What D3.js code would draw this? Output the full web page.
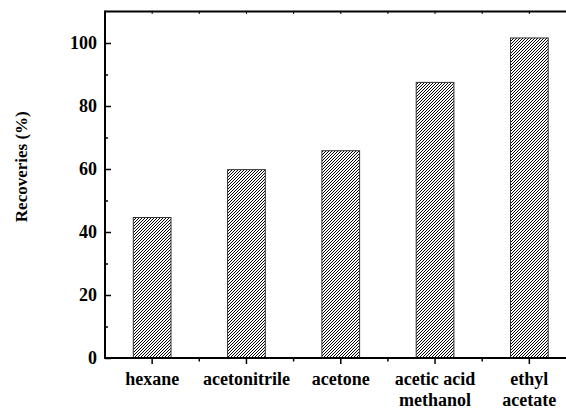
<!DOCTYPE html>
<html><head><meta charset="utf-8">
<script src="https://cdn.jsdelivr.net/npm/d3@7"></script>
<style>body{margin:0;background:#fff}svg{display:block}</style>
</head><body>
<script>
const categories = [["hexane"],["acetonitrile"],["acetone"],["acetic acid","methanol"],["ethyl","acetate"]];
const recoveries = [44.6, 59.8, 65.8, 87.5, 101.6];
const yTicks = [0,20,40,60,80,100];
const yMinor = [10,30,50,70,90];

(function(){
const W=566,H=409;
const FONT="Liberation Serif";
const svg=d3.select("body").append("svg").attr("width",W).attr("height",H);
const defs=svg.append("defs");
const pat=defs.append("pattern").attr("id","hatch").attr("patternUnits","userSpaceOnUse")
  .attr("width",3).attr("height",3);
pat.append("rect").attr("width",3).attr("height",3).attr("fill","#fff");
pat.append("path").attr("d","M-1,1 L1,-1 M0,3 L3,0 M2,4 L4,2").attr("stroke","#000").attr("stroke-width",1);

const pLeft=105, pTop=11.5, pBottom=358, pRight=576.5;
const keys=categories.map((c,i)=>i);
const x=d3.scaleBand().domain(keys).range([pLeft,pRight]).paddingInner(0.6).paddingOuter(0.3);
const y=d3.scaleLinear().domain([0,110]).range([pBottom,pTop]);

// bars
svg.append("g").selectAll("rect").data(recoveries).join("rect")
  .attr("x",(d,i)=>x(i)).attr("width",x.bandwidth())
  .attr("y",d=>y(d)).attr("height",d=>y(0)-y(d))
  .attr("fill","url(#hatch)").attr("stroke","#333").attr("stroke-width",1);

// y axis (ticks inward)
const ya=svg.append("g").attr("transform",`translate(${pLeft},0)`)
  .call(d3.axisLeft(y).tickValues(yTicks).tickSize(-6).tickPadding(8).tickFormat(d3.format("d")));
ya.attr("font-family",FONT).attr("font-size",18).attr("font-weight","bold");
ya.select(".domain").remove();
ya.selectAll("line").attr("stroke","#000").attr("stroke-width",1.5);
ya.selectAll("text").attr("fill","#000");
svg.append("g").attr("transform",`translate(${pLeft},0)`)
  .call(d3.axisLeft(y).tickValues(yMinor).tickSize(-3).tickFormat(""))
  .call(g=>g.select(".domain").remove())
  .selectAll("line").attr("stroke","#000").attr("stroke-width",1.5);

// x axis ticks (outward)
const xa=svg.append("g").attr("transform",`translate(0,${pBottom})`)
  .call(d3.axisBottom(x).tickSize(6).tickFormat(""));
xa.select(".domain").remove();
xa.selectAll("line").attr("stroke","#000").attr("stroke-width",1.5);
const minorX=keys.slice(1).map(i=>x(i)-(x.step()-x.bandwidth())/2);
svg.append("g").selectAll("line").data(minorX).join("line")
  .attr("x1",d=>d).attr("x2",d=>d).attr("y1",pBottom).attr("y2",pBottom+3.5)
  .attr("stroke","#000").attr("stroke-width",1.5);

// top mirrored ticks
const tickTop=keys.map(i=>x(i)+x.bandwidth()/2).concat(minorX);
svg.append("g").selectAll("line").data(tickTop).join("line")
  .attr("x1",d=>d).attr("x2",d=>d).attr("y1",pTop).attr("y2",pTop+2.5)
  .attr("stroke","#000").attr("stroke-width",1);

// frame
svg.append("line").attr("x1",pLeft).attr("x2",W).attr("y1",pBottom).attr("y2",pBottom).attr("stroke","#000").attr("stroke-width",2);
svg.append("line").attr("x1",pLeft).attr("x2",W).attr("y1",pTop).attr("y2",pTop).attr("stroke","#000").attr("stroke-width",2);
svg.append("line").attr("x1",pLeft).attr("x2",pLeft).attr("y1",pTop-1).attr("y2",pBottom+1).attr("stroke","#000").attr("stroke-width",2);

// category labels
const lab=svg.append("g").attr("font-family",FONT).attr("font-size",18).attr("font-weight","bold");
categories.forEach((lines,i)=>{
  const cx=x(i)+x.bandwidth()/2;
  const t=lab.append("text").attr("x",cx).attr("text-anchor","middle").attr("fill","#000");
  lines.forEach((s,j)=>t.append("tspan").attr("x",cx).attr("y",385+j*21).text(s));
});

// y label
svg.append("text").attr("transform",`translate(27,${(111.7+221.7)/2}) rotate(-90)`)
  .attr("text-anchor","middle").attr("font-family",FONT).attr("font-size",17).attr("font-weight","bold")
  .attr("fill","#000").text("Recoveries (%)");
})();
</script>
</body></html>
